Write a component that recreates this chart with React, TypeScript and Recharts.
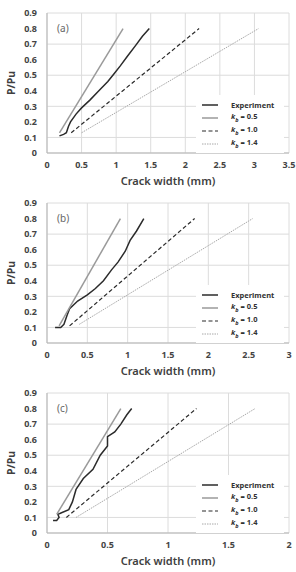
import { CartesianGrid, Legend, Line, LineChart, XAxis, YAxis } from "recharts";

// P/Pu vs crack width, three specimens
const yTicks = [0, 0.1, 0.2, 0.3, 0.4, 0.5, 0.6, 0.7, 0.8, 0.9];
const xTicksA = [0, 0.5, 1, 1.5, 2, 2.5, 3, 3.5];
const xTicksB = [0, 0.5, 1, 1.5, 2, 2.5, 3];
const xTicksC = [0, 0.5, 1, 1.5, 2];

const expA = [
  { w: 0.18, p: 0.11 }, { w: 0.24, p: 0.12 }, { w: 0.28, p: 0.13 }, { w: 0.31, p: 0.17 },
  { w: 0.34, p: 0.2 }, { w: 0.42, p: 0.25 }, { w: 0.5, p: 0.29 }, { w: 0.62, p: 0.34 },
  { w: 0.75, p: 0.4 }, { w: 0.88, p: 0.46 }, { w: 0.97, p: 0.51 }, { w: 1.06, p: 0.56 },
  { w: 1.16, p: 0.62 }, { w: 1.28, p: 0.69 }, { w: 1.38, p: 0.75 }, { w: 1.48, p: 0.8 },
];
const kb05A = [{ w: 0.18, p: 0.13 }, { w: 1.1, p: 0.8 }];
const kb10A = [{ w: 0.35, p: 0.13 }, { w: 2.2, p: 0.8 }];
const kb14A = [{ w: 0.5, p: 0.13 }, { w: 3.06, p: 0.8 }];

const expB = [
  { w: 0.1, p: 0.1 }, { w: 0.17, p: 0.1 }, { w: 0.21, p: 0.12 }, { w: 0.25, p: 0.18 },
  { w: 0.28, p: 0.22 }, { w: 0.38, p: 0.27 }, { w: 0.5, p: 0.31 }, { w: 0.6, p: 0.35 },
  { w: 0.7, p: 0.4 }, { w: 0.8, p: 0.47 }, { w: 0.88, p: 0.52 }, { w: 0.97, p: 0.59 },
  { w: 1.03, p: 0.66 }, { w: 1.11, p: 0.72 }, { w: 1.2, p: 0.8 },
];
const kb05B = [{ w: 0.15, p: 0.11 }, { w: 0.91, p: 0.8 }];
const kb10B = [{ w: 0.28, p: 0.11 }, { w: 1.83, p: 0.8 }];
const kb14B = [{ w: 0.4, p: 0.12 }, { w: 2.55, p: 0.8 }];

const expC = [
  { w: 0.05, p: 0.08 }, { w: 0.08, p: 0.08 }, { w: 0.1, p: 0.1 }, { w: 0.09, p: 0.12 },
  { w: 0.12, p: 0.13 }, { w: 0.18, p: 0.15 }, { w: 0.21, p: 0.2 }, { w: 0.24, p: 0.28 },
  { w: 0.3, p: 0.35 }, { w: 0.38, p: 0.41 }, { w: 0.44, p: 0.5 }, { w: 0.5, p: 0.56 },
  { w: 0.5, p: 0.62 }, { w: 0.56, p: 0.65 }, { w: 0.61, p: 0.7 }, { w: 0.66, p: 0.76 },
  { w: 0.7, p: 0.8 },
];
const kb05C = [{ w: 0.08, p: 0.12 }, { w: 0.61, p: 0.8 }];
const kb10C = [{ w: 0.16, p: 0.1 }, { w: 1.235, p: 0.8 }];
const kb14C = [{ w: 0.24, p: 0.1 }, { w: 1.72, p: 0.8 }];

const FONT = "'Noto Sans', 'DejaVu Sans', sans-serif";

const seriesStyles = [
  { key: "exp", name: "Experiment", stroke: "#2b2b2b", width: 1.5, dash: undefined },
  { key: "kb05", name: "0.5", stroke: "#9a9a9a", width: 1.5, dash: undefined },
  { key: "kb10", name: "1.0", stroke: "#2b2b2b", width: 1.2, dash: "4 2.5" },
  { key: "kb14", name: "1.4", stroke: "#a8a8a8", width: 1, dash: "1.5 1" },
];

const renderLegend = () => (
  <div style={{ background: "#fff", padding: "3px 0 3px 6px", fontFamily: FONT }}>
    {seriesStyles.map((s) => (
      <div key={s.key} style={{ display: "flex", alignItems: "center", height: 13 }}>
        <svg width={16} height={6} style={{ marginRight: 13 }}>
          <line x1={0} x2={16} y1={3} y2={3} stroke={s.stroke} strokeWidth={s.width} strokeDasharray={s.dash} />
        </svg>
        <span style={{ fontSize: 7.5, fontWeight: 700, color: "#333" }}>
          {s.key === "exp" ? (
            s.name
          ) : (
            <>
              <i>k</i>
              <sub style={{ fontSize: 5.5, fontStyle: "italic" }}>b</sub> = {s.name}
            </>
          )}
        </span>
      </div>
    ))}
  </div>
);

type Pt = { w: number; p: number };

const Panel = ({ tag, xTicks, series }: { tag: string; xTicks: number[]; series: Pt[][] }) => (
  <div style={{ position: "relative", width: 296, height: 190 }}>
    <LineChart width={296} height={190} margin={{ top: 13, right: 7, bottom: 2, left: 0 }}>
      <CartesianGrid stroke="#dcdcdc" strokeWidth={1} />
      <XAxis
        type="number"
        dataKey="w"
        domain={[xTicks[0], xTicks[xTicks.length - 1]]}
        ticks={xTicks}
        tickLine={false}
        axisLine={{ stroke: "#b5b5b5" }}
        height={35}
        tick={{ fontSize: 9, fontWeight: 700, fill: "#444", fontFamily: FONT }}
        tickMargin={3}
        label={{
          value: "Crack width (mm)",
          position: "insideBottom",
          offset: 3,
          style: { fontSize: 11, fontWeight: 600, fill: "#404040", fontFamily: FONT },
        }}
      />
      <YAxis
        type="number"
        domain={[0, 0.9]}
        ticks={yTicks}
        tickLine={false}
        axisLine={{ stroke: "#b5b5b5" }}
        width={47}
        tick={{ fontSize: 9, fontWeight: 700, fill: "#444", fontFamily: FONT }}
        tickMargin={4}
        label={{
          value: "P/Pu",
          angle: -90,
          position: "insideLeft",
          offset: 11,
          style: { textAnchor: "middle", fontSize: 10.5, fontWeight: 700, fill: "#404040", fontFamily: FONT },
        }}
      />
      {series.map((d, i) => (
        <Line
          key={seriesStyles[i].key}
          data={d}
          dataKey="p"
          name={seriesStyles[i].name}
          type="linear"
          stroke={seriesStyles[i].stroke}
          strokeWidth={seriesStyles[i].width}
          strokeDasharray={seriesStyles[i].dash}
          dot={false}
          isAnimationActive={false}
        />
      ))}
      <Legend
        layout="horizontal"
        verticalAlign="middle"
        content={renderLegend}
        wrapperStyle={{ left: 196, top: 95, width: 88 }}
      />
    </LineChart>
    <div
      style={{
        position: "absolute",
        left: 56,
        top: 21,
        fontSize: 10,
        color: "#666",
        fontFamily: FONT,
        background: "#fff",
        padding: "0 1px",
        lineHeight: "14px",
      }}
    >
      ({tag})
    </div>
  </div>
);

export default function App() {
  return (
    <div style={{ position: "absolute", left: 0, top: 0, width: 296, height: 572, background: "#fff" }}>
      <Panel tag="a" xTicks={xTicksA} series={[expA, kb05A, kb10A, kb14A]} />
      <Panel tag="b" xTicks={xTicksB} series={[expB, kb05B, kb10B, kb14B]} />
      <Panel tag="c" xTicks={xTicksC} series={[expC, kb05C, kb10C, kb14C]} />
    </div>
  );
}
